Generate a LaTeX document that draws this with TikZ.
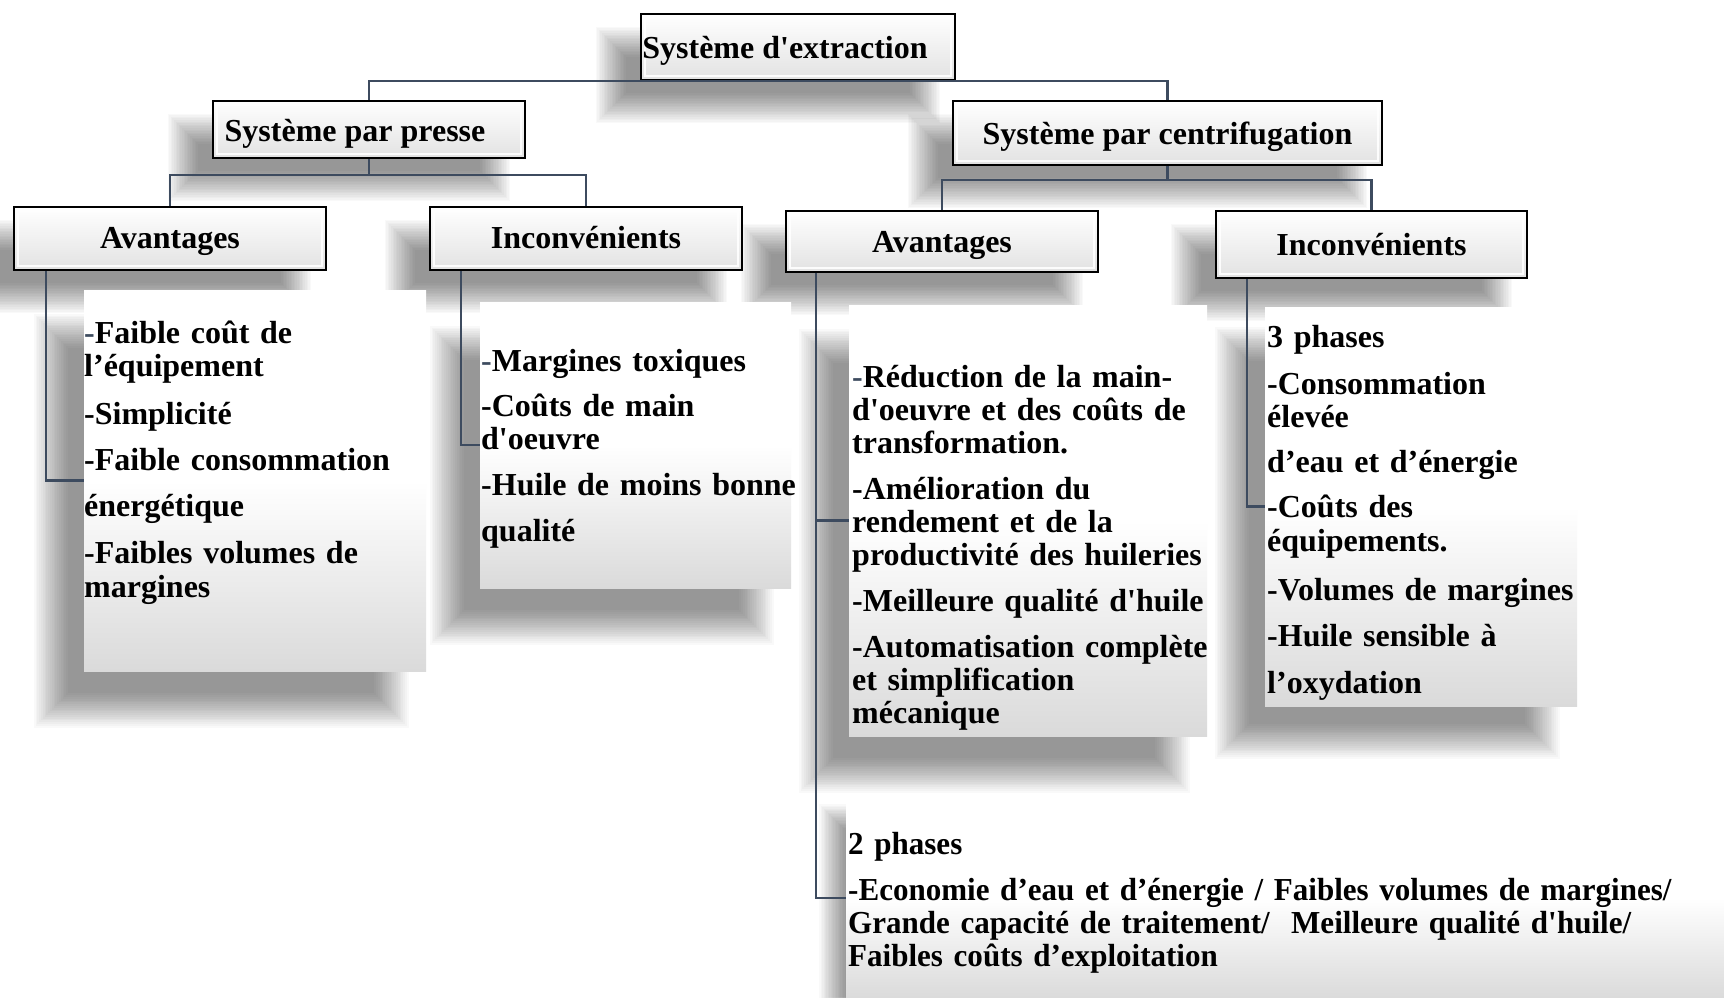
\documentclass[tikz,border=0pt]{standalone}
\usepackage{fontspec}
\setmainfont{Liberation Serif}
\pgfdeclarelayer{bgzero}
\pgfdeclarelayer{shadowlayer}
\pgfsetlayers{bgzero,shadowlayer,main}
\definecolor{connc}{HTML}{3D4B5F}
\definecolor{hdrg}{HTML}{E2E2E2}
\definecolor{cbg}{HTML}{DADADA}
\newcommand\myfnt{\fontsize{32}{33}\selectfont\bfseries\lineskiplimit=-100pt\relax}
\tikzset{
  conn/.style={draw=connc, line width=2.5pt},
  hdr/.style={draw=black, line width=2pt, top color=white, bottom color=hdrg,
    inner sep=0pt, font=\myfnt, anchor=north west,
    path picture={\draw[white, line width=1.5pt, opacity=.9]
      ([shift={(4pt,-4pt)}]path picture bounding box.north west) rectangle
      ([shift={(-4pt,4pt)}]path picture bounding box.south east);}},
  cbox/.style={top color=white, bottom color=cbg, middle color=white,
    inner sep=0pt, anchor=north west},
  ctext/.style={anchor=base west, text width=440pt, align=left, inner sep=0pt, font=\myfnt},
  shadlayer/.style={fill=black, opacity=0.025},
}
% soft shadow: node, x shift, y shift (down), blur radius
\newcommand\softshadow[4]{%
  \foreach \i in {1,...,20}{%
    \pgfmathsetmacro\dd{#4*(1-\i/10)}%
    \fill[shadlayer] ([shift={(#2-\dd,#3-\dd)}]#1.north west) rectangle ([shift={(#2+\dd,#3+\dd)}]#1.south east);
  }}
\newcommand\bd{\textcolor{connc}{-}}
\begin{document}
\begin{tikzpicture}[x=1pt,y=-1pt]
\begin{pgfonlayer}{bgzero}
\fill[white] (0,0) rectangle (1724,997);
\end{pgfonlayer}
\useasboundingbox (0,0) rectangle (1724,997);

% header boxes
\node[hdr, minimum width=314pt, text height=44pt, text depth=22pt] (top) at (640,13) {Système d\textquotesingle extraction\hspace{26pt}\mbox{}};
\node[hdr, minimum width=312pt, text height=40pt, text depth=17pt] (presse) at (212,100) {Système par presse\hspace{28pt}\mbox{}};
\node[hdr, minimum width=429pt, text height=43pt, text depth=21pt] (centrif) at (952,100) {Système par centrifugation};
\node[hdr, minimum width=312pt, text height=41pt, text depth=22pt] (lav) at (13,206) {Avantages};
\node[hdr, minimum width=312pt, text height=41pt, text depth=22pt] (linc) at (429,206) {Inconvénients};
\node[hdr, minimum width=312pt, text height=41pt, text depth=20pt] (rav) at (785,210) {Avantages};
\node[hdr, minimum width=311pt, text height=44pt, text depth=23pt] (rinc) at (1215,210) {Inconvénients};

% content boxes
\node[cbox, minimum width=342pt, minimum height=381pt] (lavc) at (84,290) {};
\node[cbox, minimum width=311pt, minimum height=286pt] (lincc) at (480,302) {};
\node[cbox, minimum width=358pt, minimum height=431pt] (ravc) at (849,305) {};
\node[cbox, minimum width=312pt, minimum height=399pt] (rincc) at (1265,307) {};
\node[cbox, minimum width=900pt, minimum height=202pt] (twoc) at (846,797) {};

% shadows
\begin{pgfonlayer}{shadowlayer}
\softshadow{top}{-30}{28}{16}
\softshadow{presse}{-30}{28}{16}
\softshadow{centrif}{-30}{28}{16}
\softshadow{lav}{-30}{28}{16}
\softshadow{linc}{-30}{28}{16}
\softshadow{rav}{-30}{28}{16}
\softshadow{rinc}{-30}{28}{16}
\softshadow{lavc}{-34}{40}{18}
\softshadow{lincc}{-34}{40}{18}
\softshadow{ravc}{-34}{40}{18}
\softshadow{rincc}{-34}{36}{18}
\softshadow{twoc}{-14}{20}{14}
\end{pgfonlayer}

% content texts
\node[ctext] (lavt) at (84,343) {\bd Faible coût de\\ l’équipement\\[15pt] -Simplicité\\[13pt] -Faible consommation\\[13pt] énergétique\\[14pt] -Faibles volumes de\\[1pt] margines};
\node[ctext] (linct) at (481,371) {\bd Margines toxiques\\[12pt] -Coûts de main\\ d\textquotesingle oeuvre\\[13pt] -Huile de moins bonne\\[13pt] qualité};
\node[ctext] (ravt) at (852,387) {\bd Réduction de la main-\\ d\textquotesingle oeuvre et des coûts de\\ transformation.\\[13pt] -Amélioration du\\ rendement et de la\\ productivité des huileries\\[13pt] -Meilleure qualité d\textquotesingle huile\\[13pt] -Automatisation complète\\ et simplification\\ mécanique};
\node[ctext] (rinct) at (1267,347) {3 phases\\[14pt] -Consommation\\ élevée\\[12pt] d’eau et d’énergie\\[12pt] -Coûts des\\[1pt] équipements.\\[16pt] -Volumes de margines\\[13pt] -Huile sensible à\\[14pt] l’oxydation};
\node[ctext, text width=860pt, font={\myfnt\addfontfeatures{FakeStretch=0.97}}] (twot) at (848,854) {2 phases\\[13pt] -Economie d’eau et d’énergie / Faibles volumes de margines/\\ Grande capacité de traitement/\ \ Meilleure qualité d\textquotesingle huile/\\ Faibles coûts d’exploitation};

% connectors
\draw[conn] (top.south) -| (presse.north);
\draw[conn] (top.south) -| (centrif.north);
\draw[conn] (presse.south) -- ++(0,16) -| (lav.north);
\draw[conn] (presse.south) -- ++(0,16) -| (linc.north);
\draw[conn] (centrif.south) -- ++(0,14) -| (rav.north);
\draw[conn] (centrif.south) -- ++(0,14) -| (rinc.north);
\draw[conn] ([xshift=33pt]lav.south west) |- (lavc.west);
\draw[conn] ([xshift=32pt]linc.south west) |- (lincc.west);
\draw[conn] ([xshift=31pt]rav.south west) |- (ravc.west);
\draw[conn] ([xshift=31pt]rav.south west) |- (twoc.west);
\draw[conn] ([xshift=32pt]rinc.south west) |- (rincc.west);
\end{tikzpicture}
\end{document}
